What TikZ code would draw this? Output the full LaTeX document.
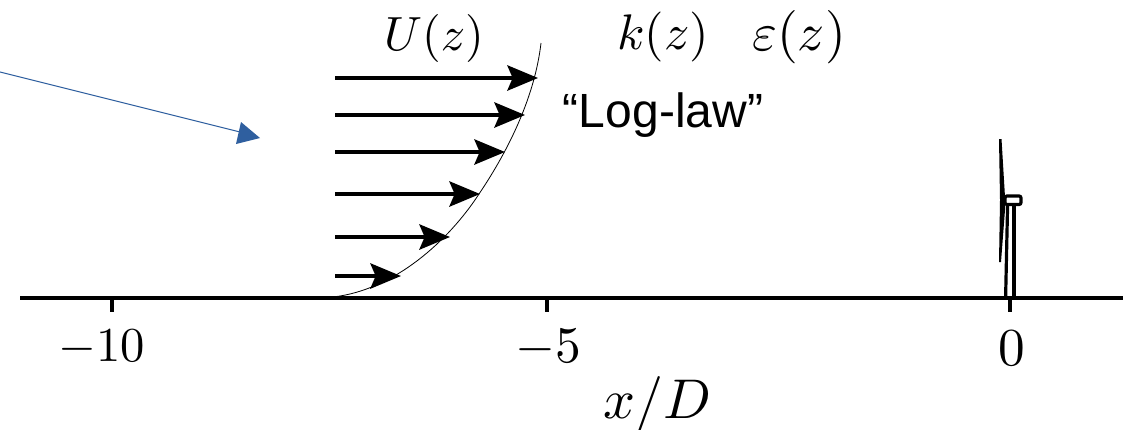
\documentclass[tikz,border=0pt]{standalone}
\usepackage{fontspec}
\usepackage{graphicx}
\newfontfamily\lawfont{Liberation Sans}
\usetikzlibrary{arrows.meta}
\definecolor{bluearrow}{HTML}{2F5F9F}
\newcommand{\mathbig}[2]{\scalebox{#1}{$#2$}}
\tikzset{
  px/.style={x=0.75pt,y=-0.75pt},
  mathlabel/.style={inner sep=0pt},
  flow/.style={line width=2.4pt,-{Stealth[length=23pt,width=19pt,inset=4pt]}},
  axisline/.style={line width=2.8pt},
  towerline/.style={line width=2.4pt},
  profile/.style={line width=0.6pt},
}
\begin{document}
\begin{tikzpicture}[px]
\useasboundingbox (0,0) rectangle (1123,429);
% axis
\coordinate (axL) at (20,298); \coordinate (axR) at (1123,298);
\draw[axisline] (axL) -- (axR);
\foreach \n/\x in {a/112,b/547,c/1010}{
  \coordinate (t\n) at (\x,298); \coordinate (u\n) at (\x,312);
  \draw[line width=2.6pt] (t\n) -- (u\n);
}
\node[mathlabel] (lm10) at (102,348) {\mathbig{3.65}{-10}};
\node[mathlabel] (lm5) at (548,348) {\mathbig{3.85}{-5}};
\node[mathlabel] (l0) at (1012,348) {\mathbig{4.0}{0}};
\node[mathlabel] (lx) at (657,404) {\mathbig{4.2}{x/D}};
% profile
\draw[profile] (333,297) .. controls (395,290) and (449,240) .. (479,194) .. controls (510,148) and (535,95) .. (541,43);
\foreach \n/\y/\x in {1/78/538,2/115/525,3/152/505,4/194/480,5/237/450,6/276/401}{
  \coordinate (fs\n) at (335,\y); \coordinate (fe\n) at (\x,\y);
  \draw[flow] (fs\n) -- (fe\n);
}
\node[mathlabel] (U) at (434,38) {\mathbig{3.6}{U(z)}};
\node[mathlabel] (k) at (663,37) {\mathbig{3.75}{k(z)}};
\node[mathlabel] (e) at (799,37) {\mathbig{4.0}{\varepsilon(z)}};
\node[inner sep=0pt,font=\lawfont\fontsize{36}{40}\selectfont] (log) at (663,115) {“Log-law”};
% blue arrow
\coordinate (bs) at (0,72); \coordinate (be) at (240,132);
\draw[bluearrow,line width=0.8pt] (bs) -- (be);
\fill[bluearrow] (260,138) -- (241,122) -- (236,144) -- cycle;
% turbine
\draw[towerline] (1005.6,298) -- (1007.6,204);
\draw[towerline] (1014,298) -- (1014,204);
\fill (999,139) -- (1001.5,139) -- (1005,197) -- (1005,210) -- (1001,262) -- (999,262) -- (1000,200) -- cycle;
\draw[towerline,fill=white,rounded corners=1.5pt] (1005,196) rectangle (1021,204.5);
\end{tikzpicture}
\end{document}
